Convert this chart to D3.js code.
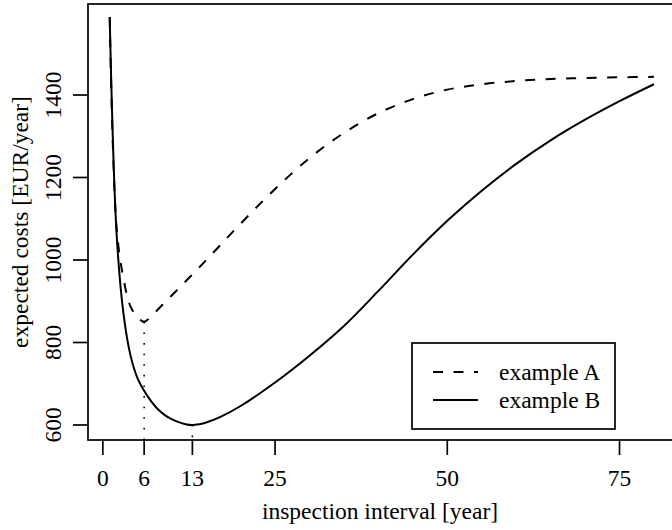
<!DOCTYPE html>
<html lang="en">

<head>
  <meta charset="utf-8" />
  <title>Expected costs vs inspection interval</title>
  <script src="https://d3js.org/d3.v7.min.js"></script>
  <style>
    body {
      margin: 0;
      background: white;
    }

    text {
      font-family: "Liberation Serif", "DejaVu Serif", serif;
      font-size: 23.5px;
      fill: black;
    }

    .frame {
      fill: none;
      stroke: black;
      stroke-width: 1.7px;
    }

    .tick {
      stroke: black;
      stroke-width: 1.7px;
    }

    .curve {
      fill: none;
      stroke: black;
      stroke-width: 2px;
    }
  </style>
</head>

<body>
  <svg width="672" height="530"></svg>

  <script>
    // values
    const years = [1, 2, 3, 4, 5, 6, 7, 8, 9, 10, 11, 12, 13, 14, 15, 17, 20, 25, 30, 35, 40, 45, 50, 55, 60, 65, 70, 75, 80];
    const costsA = [1589, 1078, 955, 888, 862, 850, 864, 880, 897, 914, 931, 948, 965, 982, 1000, 1035, 1088, 1172, 1247, 1308, 1356, 1390, 1413, 1426, 1434, 1439, 1441, 1443, 1444];
    const costsB = [1589, 1064, 870, 770, 715, 683, 658, 638, 624, 614, 607, 602, 600, 602, 606, 619, 646, 703, 768, 840, 925, 1013, 1095, 1168, 1233, 1290, 1340, 1385, 1426];

    const xTicks = [0, 6, 13, 25, 50, 75];
    const yTicks = [600, 800, 1000, 1200, 1400];

    // optimum intervals marked with dotted lines
    const optX = [6, 13];
    const optY = [850, 600];

    const seriesNames = ["example A", "example B"];
    const seriesDash = ["10,10.5", null];

    const svg = d3.select("svg");

    const mLeft = 88, mRight = 676, mTop = 4, mBottom = 440;

    const x = d3.scaleLinear().domain([-2.15, 83.2]).range([mLeft, mRight]);
    const y = d3.scaleLinear().domain([563.6, 1620.6]).range([mBottom, mTop]);

    // dotted guides
    svg.append("g")
      .selectAll("line")
      .data(optX)
      .join("line")
      .attr("x1", d => x(d))
      .attr("x2", d => x(d))
      .attr("y1", (d, i) => y(optY[i]))
      .attr("y2", mBottom)
      .attr("stroke", "black")
      .attr("stroke-width", 1.6)
      .attr("stroke-dasharray", "1.6,9");

    const line = d3.line()
      .x(d => x(d[0]))
      .y(d => y(d[1]))
      .curve(d3.curveCatmullRom.alpha(0.5));

    const series = [costsA, costsB].map(vals => years.map((yr, i) => [yr, vals[i]]));

    svg.append("g")
      .selectAll("path")
      .data(series)
      .join("path")
      .attr("class", "curve")
      .attr("d", line)
      .attr("stroke-dasharray", (d, i) => seriesDash[i]);

    // plot box
    svg.append("rect")
      .attr("class", "frame")
      .attr("x", mLeft)
      .attr("y", mTop)
      .attr("width", mRight - mLeft)
      .attr("height", mBottom - mTop);

    // x axis
    const xAxis = svg.append("g");
    xAxis.selectAll("line")
      .data(xTicks)
      .join("line")
      .attr("class", "tick")
      .attr("x1", d => x(d))
      .attr("x2", d => x(d))
      .attr("y1", mBottom)
      .attr("y2", mBottom + 15);
    xAxis.selectAll("text")
      .data(xTicks)
      .join("text")
      .attr("x", d => x(d))
      .attr("y", 486)
      .attr("text-anchor", "middle")
      .text(d => d);

    // y axis
    const yAxis = svg.append("g");
    yAxis.selectAll("line")
      .data(yTicks)
      .join("line")
      .attr("class", "tick")
      .attr("x1", mLeft - 15)
      .attr("x2", mLeft)
      .attr("y1", d => y(d))
      .attr("y2", d => y(d));
    yAxis.selectAll("text")
      .data(yTicks)
      .join("text")
      .attr("transform", d => `translate(61,${y(d)}) rotate(-90)`)
      .attr("text-anchor", "middle")
      .text(d => d);

    // axis titles
    svg.append("text")
      .attr("x", 380)
      .attr("y", 519)
      .attr("text-anchor", "middle")
      .text("inspection interval [year]");

    svg.append("text")
      .attr("transform", `translate(28,${(mTop + mBottom) / 2}) rotate(-90)`)
      .attr("text-anchor", "middle")
      .text("expected costs [EUR/year]");

    // legend
    const legend = svg.append("g").attr("transform", "translate(412,343)");
    legend.append("rect")
      .attr("class", "frame")
      .attr("width", 203)
      .attr("height", 86);
    const item = legend.selectAll("g")
      .data(seriesNames)
      .join("g")
      .attr("transform", (d, i) => `translate(0,${29 + i * 28})`);
    item.append("line")
      .attr("class", "curve")
      .attr("x1", 21)
      .attr("x2", 66)
      .attr("stroke-dasharray", (d, i) => seriesDash[i]);
    item.append("text")
      .attr("x", 87)
      .attr("y", 8)
      .text(d => d);
  </script>
</body>

</html>
